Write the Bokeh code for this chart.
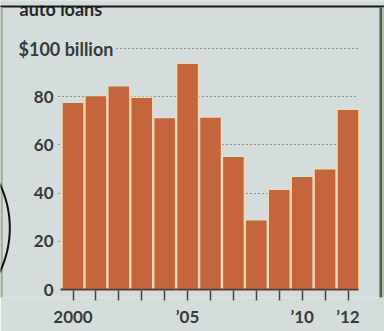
import numpy as np
from bokeh.plotting import figure
from bokeh.models import FixedTicker, Label, PolyAnnotation, Range1d, Grid
from bokeh.core.properties import value
from bokeh.embed import file_html
from bokeh.resources import INLINE

# ---- data ----
years = [2000, 2001, 2002, 2003, 2004, 2005, 2006, 2007, 2008, 2009, 2010, 2011, 2012]
loans = [77.7, 80.5, 84.5, 79.8, 71.4, 93.9, 71.6, 55.3, 28.9, 41.6, 47.0, 50.1, 74.8]
x_tick_labels = {2000: "2000", 2005: "\u201905", 2010: "\u201910", 2012: "\u201912"}
y_ticks = [0, 20, 40, 60, 80]
y_tick_labels = ["0", "20", "40", "60", "80"]
y_top_value = 100
y_top_label = "$100 billion"
title_text = "auto loans"

# ---- style ----
BG = "#d4dddc"
BAR = "#c4653d"
EDGE = "#f1d9b2"
TEXT = "#3a3a3a"
AXIS = "#444444"
GRID = "#4a4a4a"
FONT = "Lato"

W, H = 384, 331
ZERO = 289                   # pixel row of the zero line
FB = 297                     # frame bottom pixel row
PX_YEAR = 22.917             # pixels per year
PX_2000 = 72.5               # pixel column of the 2000 bar centre
PX_UNIT = 2.41               # pixels per $1bn
X0 = years[0] - PX_2000 / PX_YEAR
X1 = years[0] + (W - PX_2000) / PX_YEAR
Y0, Y1 = (ZERO - FB) / PX_UNIT, ZERO / PX_UNIT


def xd(px):
    return X0 + px / PX_YEAR


def yd(py):
    return (ZERO - py) / PX_UNIT


p = figure(width=W, height=H, output_backend="svg", toolbar_location=None,
           x_range=Range1d(X0, X1), y_range=Range1d(Y0, Y1),
           y_axis_location=None,
           min_border_left=0, min_border_right=0,
           min_border_top=0, min_border_bottom=H - FB)
p.background_fill_color = BG
p.border_fill_color = BG
p.outline_line_color = None

# grid lines (dotted), starting at the left edge of the bars area
p.xgrid.visible = False
g = p.ygrid[0]
g.ticker = FixedTicker(ticks=y_ticks[1:])
g.grid_line_color = GRID
g.grid_line_dash = "1 3"
g.grid_line_width = 1.2
if "cross_bounds" in g.properties():
    g.cross_bounds = (xd(58), xd(358))
    p.add_layout(Grid(dimension=1, ticker=FixedTicker(ticks=[y_top_value]),
                      grid_line_color=GRID, grid_line_dash="1 3",
                      grid_line_width=1.2, cross_bounds=(xd(116), xd(358))))
else:
    g.visible = False
    p.segment(x0=[xd(58)] * 4, y0=y_ticks[1:], x1=[xd(358)] * 4, y1=y_ticks[1:],
              line_color=GRID, line_dash="1 3", line_width=1.2, level="underlay")
    p.segment(x0=[xd(116)], y0=[y_top_value], x1=[xd(358)], y1=[y_top_value],
              line_color=GRID, line_dash="1 3", line_width=1.2, level="underlay")

p.vbar(x=years, top=loans, width=0.96, fill_color=BAR,
       line_color=EDGE, line_width=1.5)

# zero baseline
p.segment(x0=[xd(60)], y0=[0], x1=[xd(358)], y1=[0],
          line_color=AXIS, line_width=2)

# y tick labels, placed through the y scale
p.text(x=[xd(53)] * len(y_ticks), y=y_ticks, text=y_tick_labels,
       text_align="right", text_baseline="middle", text_font=value(FONT),
       text_font_style="bold", text_font_size="17px", text_color=TEXT)

# x axis (ticks + labels)
xa = p.xaxis[0]
xa.ticker = FixedTicker(ticks=years)
xa.bounds = (xd(60), xd(358))
xa.major_label_overrides = {y: x_tick_labels.get(y, "") for y in years}
xa.axis_line_color = None
xa.major_tick_line_color = AXIS
xa.major_tick_line_width = 1.5
xa.major_tick_in = FB - ZERO - 1
xa.major_tick_out = 3
xa.minor_tick_line_color = None
xa.major_label_text_font = FONT
xa.major_label_text_font_style = "bold"
xa.major_label_text_font_size = "17px"
xa.major_label_text_color = TEXT
xa.major_label_standoff = 5

# texts
p.add_layout(Label(x=xd(19), y=yd(8), text=title_text, text_font=FONT,
                   text_font_style="bold", text_font_size="18px",
                   text_color="#2a2a2a", text_baseline="alphabetic"))
p.add_layout(Label(x=xd(18), y=y_top_value, text=y_top_label, text_font=FONT,
                   text_font_style="bold", text_font_size="18px",
                   text_color=TEXT, text_baseline="middle", text_align="left"))


def rect(x0, y0, x1, y1, color):
    p.add_layout(PolyAnnotation(xs=[xd(x0), xd(x1), xd(x1), xd(x0)],
                                ys=[yd(y0), yd(y0), yd(y1), yd(y1)],
                                fill_color=color, fill_alpha=1.0,
                                line_color=None))


# page decorations: top rule, side edges
rect(-2, -2, W + 2, 5, BG)
rect(-2, 5, W + 2, 7, "#1b1b1b")
rect(379, 7, 381.5, H + 2, "#4f5b4c")
rect(381.5, 7, W + 2, H + 2, "#b3bdac")
rect(-2, 7, 2.5, H + 2, "#a9b29d")

# hand-drawn arc at the left edge
cx, cy, R = -92.4, 227.5, 101.7
th = np.linspace(-0.46, 0.46, 40)
ox = cx + (R + 1) * np.cos(th)
oy = cy + (R + 1) * np.sin(th)
ix = cx + (R - 1) * np.cos(th[::-1])
iy = cy + (R - 1) * np.sin(th[::-1])
p.add_layout(PolyAnnotation(xs=[xd(v) for v in np.concatenate([ox, ix])],
                            ys=[yd(v) for v in np.concatenate([oy, iy])],
                            fill_color="#111111", fill_alpha=1.0,
                            line_color=None))

open("out.html", "w").write(file_html(p, INLINE))
